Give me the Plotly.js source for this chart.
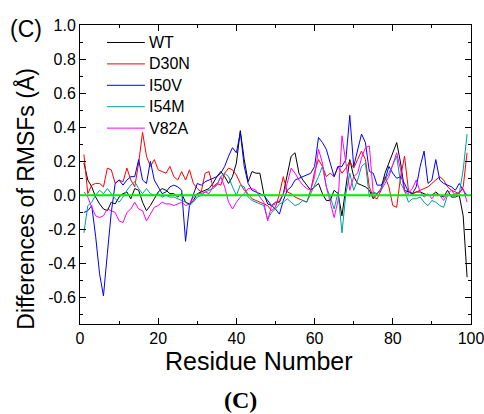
<!DOCTYPE html>
<html>
<head>
<meta charset="utf-8">
<script src="https://cdn.plot.ly/plotly-3.0.1.min.js"></script>
<style>html,body{margin:0;padding:0;background:#fff;}#chart{width:484px;height:414px;}</style>
</head>
<body>
<div id="chart"></div>
<script>
const residues = [1,2,3,4,5,6,7,8,9,10,11,12,13,14,15,16,17,18,19,20,21,22,23,24,25,26,27,28,29,30,31,32,33,34,35,36,37,38,39,40,41,42,43,44,45,46,47,48,49,50,51,52,53,54,55,56,57,58,59,60,61,62,63,64,65,66,67,68,69,70,71,72,73,74,75,76,77,78,79,80,81,82,83,84,85,86,87,88,89,90,91,92,93,94,95,96,97,98,99];

const seriesNames = ["WT", "D30N", "I50V", "I54M", "V82A"];

const wt = [0.19,0.09,0.05,-0.01,-0.05,-0.08,-0.09,-0.04,-0.05,-0.01,0.01,0.02,-0.02,0.04,0.03,-0.04,-0.09,-0.06,-0.02,0.02,0.04,0.03,0.01,0.01,-0.01,0.01,-0.04,-0.05,-0.03,0.01,0.02,0.03,0.04,0.07,0.11,0.14,0.11,0.07,0.11,0.19,0.38,0.21,0.08,0.14,0.13,0.13,0.01,-0.05,-0.06,-0.04,-0.04,0.01,0.13,0.23,0.25,0.13,0.09,0.06,0.03,0.05,0.07,0.01,-0.03,-0.03,0.03,0.01,-0.12,0.05,0.21,0.11,0.07,0.06,0.05,0.03,-0.02,0.01,0.04,0.13,0.19,0.25,0.31,0.19,0.03,0.02,0.01,0.02,0.02,0.01,0.0,0.0,0.02,0.0,-0.01,0.03,-0.01,-0.01,0.0,-0.12,-0.48];

const d30n = [0.24,0.01,0.06,0.07,0.07,0.05,0.16,0.15,0.07,0.09,0.08,0.16,0.09,0.05,0.19,0.37,0.23,0.17,0.21,0.15,0.14,0.13,0.17,0.11,0.09,0.14,0.09,0.15,0.07,0.04,0.02,0.13,0.14,0.05,0.07,0.06,0.13,0.16,0.15,0.12,0.07,0.03,0.01,-0.02,-0.03,-0.04,-0.05,-0.06,-0.09,-0.07,0.01,0.11,0.02,0.01,-0.01,-0.02,-0.03,-0.04,0.03,0.14,0.21,0.17,0.11,0.13,0.11,0.17,0.13,0.16,0.2,0.16,0.21,0.26,0.21,0.05,-0.01,-0.02,0.03,0.11,0.05,-0.06,-0.07,0.11,0.23,0.03,0.01,0.02,0.03,0.04,0.05,0.07,0.09,0.11,0.09,0.05,0.03,0.02,0.01,0.05,0.25];

const i50v = [-0.10,-0.09,-0.06,-0.24,-0.46,-0.59,-0.34,-0.10,0.07,0.09,0.06,0.09,0.11,0.11,0.21,0.09,0.07,0.20,0.09,0.05,0.01,0.02,0.05,0.06,0.05,0.03,-0.27,-0.06,0.0,0.07,0.06,0.08,0.09,0.10,0.11,0.13,0.17,0.23,0.28,0.25,0.37,0.17,0.07,0.03,0.02,0.01,0.0,-0.03,-0.06,-0.08,-0.11,-0.03,0.03,0.05,0.09,0.10,0.11,0.12,0.13,0.17,0.34,0.31,0.27,0.19,0.11,0.17,0.17,0.21,0.47,0.17,0.27,0.36,0.31,0.14,0.13,0.06,0.06,0.09,0.17,0.13,0.10,0.11,0.07,0.02,0.01,0.05,0.17,0.26,0.07,0.09,0.21,0.09,0.07,0.06,0.05,0.03,0.07,0.03,0.0];

const i54m = [-0.22,-0.06,-0.04,0.0,0.03,0.01,0.04,0.01,-0.02,-0.04,-0.01,0.03,0.06,0.08,0.04,0.01,0.04,0.01,0.0,0.01,-0.01,0.0,-0.01,-0.01,-0.02,-0.03,-0.04,-0.06,-0.04,-0.01,0.0,0.02,0.03,0.04,0.06,0.11,0.13,0.11,0.05,0.0,0.06,0.05,-0.01,-0.03,-0.04,-0.05,-0.06,-0.14,-0.1,-0.08,-0.05,-0.04,-0.02,-0.04,-0.06,-0.05,-0.03,-0.04,0.01,0.05,0.11,0.17,0.05,-0.01,-0.08,0.02,-0.22,0.01,0.13,0.03,0.09,0.17,0.19,-0.01,0.02,0.01,0.04,0.09,0.13,0.18,0.23,0.07,0.03,-0.04,-0.02,-0.02,-0.01,-0.04,-0.06,-0.03,-0.04,-0.06,-0.07,0.0,0.0,0.01,0.01,0.15,0.36];

const v82a = [0.02,-0.01,-0.07,-0.12,-0.13,-0.12,-0.08,-0.09,-0.1,-0.15,-0.16,-0.1,-0.08,-0.04,-0.08,-0.09,-0.15,-0.11,-0.07,-0.06,-0.04,-0.05,-0.05,-0.06,-0.05,-0.04,-0.06,-0.05,-0.01,0.01,0.01,0.02,0.01,0.05,0.06,0.11,0.05,-0.04,-0.08,-0.04,-0.01,0.01,0.04,0.04,0.03,-0.01,-0.04,-0.15,-0.06,-0.05,-0.03,0.01,0.07,0.16,0.13,0.09,0.06,0.04,0.03,0.11,0.27,0.19,0.05,-0.04,-0.13,-0.03,0.35,0.19,0.03,0.11,0.13,0.22,0.28,0.29,0.01,0.01,0.03,0.07,0.11,0.18,0.25,0.15,0.02,0.01,0.04,0.09,0.02,-0.01,0.01,-0.02,0.01,0.0,-0.03,0.01,0.03,0.0,0.02,0.04,-0.04];

const seriesValues = [wt, d30n, i50v, i54m, v82a];
const seriesColors = ["#000000", "#ff0000", "#0000ff", "#009c9c", "#ff00ff"];

const yTickVals = [-0.6, -0.4, -0.2, 0.0, 0.2, 0.4, 0.6, 0.8, 1.0];
const yTickText = ["-0.6", "-0.4", "-0.2", "0.0", "0.2", "0.4", "0.6", "0.8", "1.0"];
const yMinorVals = [-0.7, -0.5, -0.3, -0.1, 0.1, 0.3, 0.5, 0.7, 0.9];
const xTickVals = [0, 20, 40, 60, 80, 100];

const xTitle = "Residue Number";
const yTitle = "Differences of RMSFs (Å)";
const panelLabel = "(C)";

const FONT = "Arial, 'Liberation Sans', sans-serif";

const traces = seriesNames.map((name, i) => ({
  x: residues,
  y: seriesValues[i],
  name: name,
  type: "scatter",
  mode: "lines",
  line: {color: seriesColors[i], width: 1},
  showlegend: false
}));

// Manual legend (Origin style: long sample lines)
const legTop = 0.9415, legStep = 0.0716;
const legendShapes = seriesNames.map((name, i) => ({
  type: "line", xref: "paper", yref: "paper",
  x0: 0.069, x1: 0.166, y0: legTop - i * legStep, y1: legTop - i * legStep,
  line: {color: seriesColors[i], width: 1}
}));
const legendLabels = seriesNames.map((name, i) => ({
  text: name, xref: "paper", yref: "paper",
  x: 0.172, y: legTop - i * legStep, xanchor: "left", yanchor: "middle",
  showarrow: false, font: {family: FONT, size: 16, color: "#000"}
}));

const layout = {
  width: 484,
  height: 414,
  margin: {l: 80, r: 13, t: 25, b: 90},
  paper_bgcolor: "#ffffff",
  plot_bgcolor: "#ffffff",
  font: {family: FONT, size: 16, color: "#000"},
  showlegend: false,
  xaxis: {
    range: [0, 100],
    tickvals: xTickVals,
    ticks: "inside", ticklen: 6, tickwidth: 1, tickcolor: "#000",
    minor: {dtick: 10, ticks: "inside", ticklen: 3, tickcolor: "#000"},
    showline: true, linecolor: "#000", linewidth: 1, mirror: "allticks",
    showgrid: false, zeroline: false,
    ticklabeloverflow: "allow",
    tickfont: {family: FONT, size: 16}
  },
  yaxis: {
    range: [-0.755, 1.0],
    tickvals: yTickVals, ticktext: yTickText,
    ticks: "inside", ticklen: 6, tickwidth: 1, tickcolor: "#000",
    minor: {tickvals: yMinorVals, ticks: "inside", ticklen: 3, tickcolor: "#000"},
    showline: true, linecolor: "#000", linewidth: 1, mirror: "allticks",
    showgrid: false, zeroline: false,
    tickfont: {family: FONT, size: 16}
  },
  shapes: [{
    type: "line", xref: "paper", yref: "y", x0: 0, x1: 1, y0: 0, y1: 0,
    line: {color: "#00ee00", width: 2}, layer: "above"
  }].concat(legendShapes),
  annotations: [
    {text: panelLabel, xref: "paper", yref: "paper", x: -0.138, y: 0.985, xanchor: "center", yanchor: "middle",
     showarrow: false, font: {family: FONT, size: 23, color: "#000"}},
    {text: "<b>" + panelLabel + "</b>", xref: "paper", yref: "paper", x: 0.41, y: -0.255, xanchor: "center", yanchor: "middle",
     showarrow: false, font: {family: "'Liberation Serif', 'Times New Roman', serif", size: 24, color: "#000"}},
    {text: xTitle, xref: "paper", yref: "paper", x: 0.458, y: -0.125, xanchor: "center", yanchor: "middle",
     showarrow: false, font: {family: FONT, size: 25, color: "#000"}},
    {text: yTitle, xref: "paper", yref: "paper", x: -0.14, y: 0.42, xanchor: "center", yanchor: "middle",
     textangle: -90, showarrow: false, font: {family: FONT, size: 23, color: "#000"}}
  ].concat(legendLabels)
};

Plotly.newPlot("chart", traces, layout, {displayModeBar: false, staticPlot: true});
</script>
</body>
</html>
